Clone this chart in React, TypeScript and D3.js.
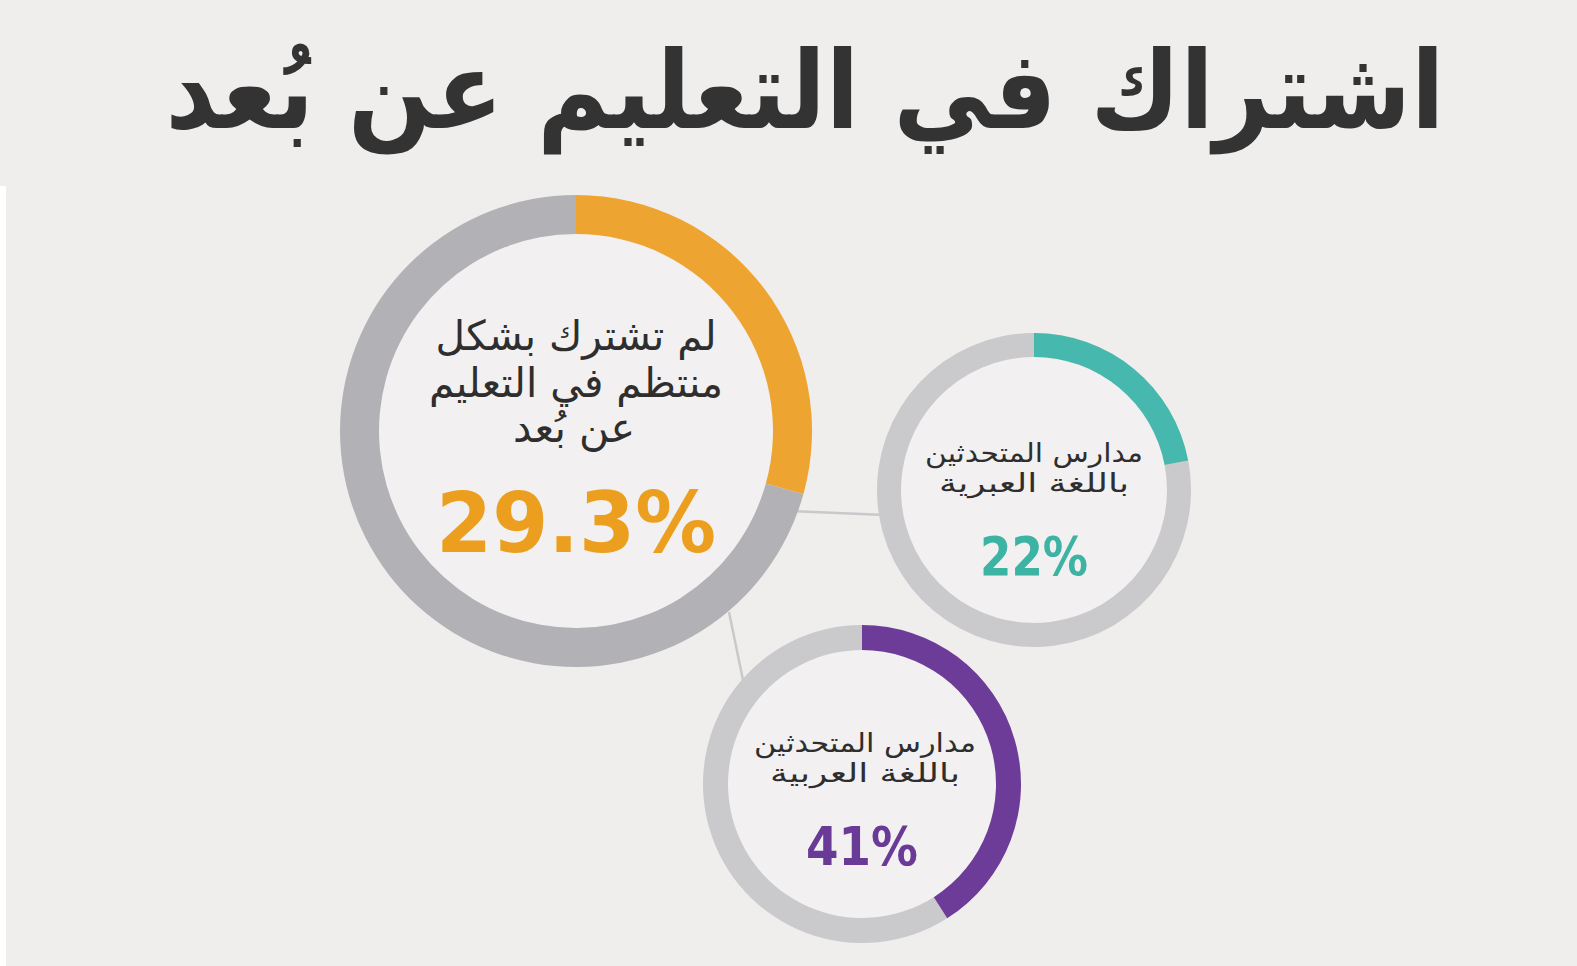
import React, { useEffect } from "react";
import * as d3 from "d3";

// ---- data ----
const titleText = "اشتراك في التعليم عن بُعد";
const seriesValues = [29.3, 22, 41];
const seriesLabels = ["29.3%", "22%", "41%"];
const captionLines = [
  ["لم تشترك بشكل", "منتظم في التعليم", "عن بُعد"],
  ["مدارس المتحدثين", "باللغة العبرية"],
  ["مدارس المتحدثين", "باللغة العربية"],
];
const seriesColors = ["#eea430", "#47b8ad", "#6d3c98"];
const valueColors = ["#ec9f1e", "#3db3a4", "#6a3a97"];

// ---- layout ----
const W = 1577;
const H = 966;
const donuts = [
  { cx: 576, cy: 431, rOut: 236, rIn: 197, track: "#b2b1b5", cap: 41, capY: [350, 397, 442], numSize: 84, numY: 552, numW: 280, capW: [281, 294, 122], capX: [0, 0, -2] },
  { cx: 1034, cy: 490, rOut: 157, rIn: 133, track: "#cac9cc", cap: 26, capY: [462, 492], numSize: 54, numY: 575, numW: 108, capW: [218, 190], capX: [0, 0] },
  { cx: 862, cy: 784, rOut: 159, rIn: 134, track: "#cac9cc", cap: 26, capY: [752, 782], numSize: 54, numY: 865, numW: 112, capW: [222, 190], capX: [3, 3] },
];

export default function App() {
  useEffect(() => {
    document.body.style.margin = "0";
  }, []);

  const tau = 2 * Math.PI;
  const pct = d3.scaleLinear().domain([0, 100]).range([0, tau]);
  const arc = d3.arc<any>();
  const font = "'DejaVu Sans', sans-serif";

  return (
    <svg width={W} height={H} style={{ position: "absolute", left: 0, top: 0, display: "block" }}>
      <rect x={0} y={0} width={W} height={H} fill="#f0eded" />
      <rect x={0} y={186} width={6} height={H - 186} fill="#ffffff" />
      <text
        x={805}
        y={128}
        textAnchor="middle"
        fontFamily={font}
        fontWeight="bold"
        fontSize={108}
        fill="#333333"
        direction="rtl"
        textLength={1279}
        lengthAdjust="spacingAndGlyphs"
      >
        {titleText}
      </text>

      {/* connectors */}
      <line x1={790} y1={511} x2={885} y2={515} stroke="#c9c8cb" strokeWidth={2.5} />
      <line x1={729} y1={612} x2={743} y2={680} stroke="#c9c8cb" strokeWidth={2.5} />

      {donuts.map((d, i) => {
        const end = pct(seriesValues[i]);
        return (
          <g key={i} transform={`translate(${d.cx},${d.cy})`}>
            <circle r={d.rIn} fill="#f2f0f0" />
            <path
              d={arc({ innerRadius: d.rIn, outerRadius: d.rOut, startAngle: end, endAngle: tau }) as string}
              fill={d.track}
            />
            <path
              d={arc({ innerRadius: d.rIn, outerRadius: d.rOut, startAngle: 0, endAngle: end }) as string}
              fill={seriesColors[i]}
            />
            {captionLines[i].map((ln, j) => (
              <text
                key={j}
                x={d.capX[j]}
                y={d.capY[j] - d.cy}
                textAnchor="middle"
                fontFamily={font}
                fontSize={d.cap}
                fill="#2e2e2e"
                direction="rtl"
                textLength={d.capW[j]}
                lengthAdjust="spacingAndGlyphs"
              >
                {ln}
              </text>
            ))}
            <text
              x={0}
              y={d.numY - d.cy}
              textAnchor="middle"
              fontFamily={font}
              fontWeight="bold"
              fontSize={d.numSize}
              fill={valueColors[i]}
              textLength={d.numW}
              lengthAdjust="spacingAndGlyphs"
            >
              {seriesLabels[i]}
            </text>
          </g>
        );
      })}
    </svg>
  );
}
